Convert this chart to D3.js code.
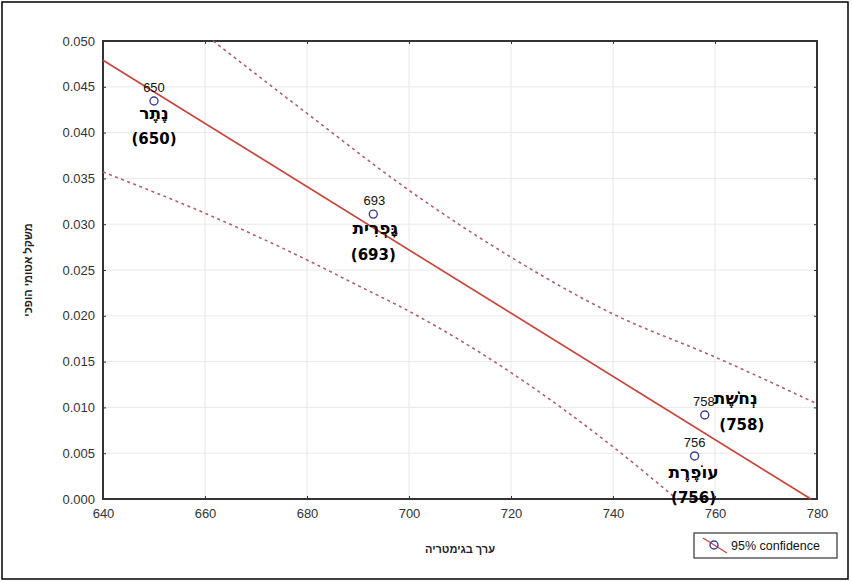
<!DOCTYPE html>
<html><head><meta charset="utf-8">
<script src="https://cdn.jsdelivr.net/npm/d3@7"></script>
<style>body{margin:0;background:#fff}svg{display:block}</style>
</head><body>
<svg id="c" width="852" height="582"></svg>
<script>
const xTicks = [640,660,680,700,720,740,760,780];
const yTicks = [0,0.005,0.010,0.015,0.020,0.025,0.030,0.035,0.040,0.045,0.050];
const pointsX = [650, 693, 758, 756];
const pointsY = [0.04345, 0.0311, 0.00917, 0.0047];
const pointNames = ["נֶתֶר","גָּפְרִית","נְחֹשֶׁת","עוֹפֶרֶת"];
const fitX = [640, 778.8];
const fitY = [0.0479, 0.0];
const upperX = [661.6, 680, 700, 720, 740, 760, 780];
const upperY = [0.050, 0.0421, 0.0337, 0.0264, 0.0202, 0.0155, 0.0104];
const lowerX = [640, 660, 680, 690, 700, 720, 740, 752.5];
const lowerY = [0.0357, 0.0312, 0.0261, 0.0233, 0.0205, 0.0138, 0.0057, 0.0];
const xTitle = "ערך בגימטריה";
const yTitle = "משקל אטומי הופכי";
const legendText = "95% confidence";

const svg = d3.select("#c");
const L=103,R=817,T=41,B=499;
const x = d3.scaleLinear().domain([640,780]).range([L,R]);
const y = d3.scaleLinear().domain([0,0.05]).range([B,T]);

svg.append("rect").attr("x",2).attr("y",2).attr("width",846).attr("height",577)
  .attr("fill","#fff").attr("stroke","#000").attr("stroke-width",1.5);

// grid
svg.append("g").selectAll("line").data(xTicks.slice(1,-1)).join("line")
  .attr("x1",d=>x(d)).attr("x2",d=>x(d)).attr("y1",T).attr("y2",B)
  .attr("stroke","#e8e8e8").attr("stroke-width",1);
svg.append("g").selectAll("line").data(yTicks.slice(1,-1)).join("line")
  .attr("y1",d=>y(d)).attr("y2",d=>y(d)).attr("x1",L).attr("x2",R)
  .attr("stroke","#e8e8e8").attr("stroke-width",1);

// axes
const fmt = d3.format(".3f");
const ax = (g, axis) => { g.call(axis); g.select(".domain").remove();
  g.selectAll(".tick line").attr("stroke","#333");
  g.selectAll(".tick text").attr("fill","#333").style("font-family","Liberation Sans, Arial").style("font-size","13px"); };
svg.append("g").attr("transform",`translate(0,${B})`).call(g=>ax(g,d3.axisBottom(x).tickValues(xTicks).tickSizeInner(-3).tickSizeOuter(0).tickPadding(10)));
svg.append("g").attr("transform",`translate(0,${T})`).call(g=>{ax(g,d3.axisTop(x).tickValues(xTicks).tickSizeInner(-3).tickSizeOuter(0)); g.selectAll("text").remove();});
svg.append("g").attr("transform",`translate(${L},0)`).call(g=>ax(g,d3.axisLeft(y).tickValues(yTicks).tickFormat(fmt).tickSizeInner(-3).tickSizeOuter(0).tickPadding(8)));
svg.append("g").attr("transform",`translate(${R},0)`).call(g=>{ax(g,d3.axisRight(y).tickValues(yTicks).tickSizeInner(-3).tickSizeOuter(0)); g.selectAll("text").remove();});
svg.append("rect").attr("x",L).attr("y",T).attr("width",R-L).attr("height",B-T)
  .attr("fill","none").attr("stroke","#333").attr("stroke-width",2);

const line = d3.line().x(d=>x(d[0])).y(d=>y(d[1]));
const curve = d3.line().x(d=>x(d[0])).y(d=>y(d[1])).curve(d3.curveMonotoneX);
svg.append("path").attr("d",curve(upperX.map((v,i)=>[v,upperY[i]]))).attr("fill","none")
  .attr("stroke","#b0606a").attr("stroke-width",1.6).attr("stroke-dasharray","3,3.5");
svg.append("path").attr("d",curve(lowerX.map((v,i)=>[v,lowerY[i]]))).attr("fill","none")
  .attr("stroke","#b0606a").attr("stroke-width",1.6).attr("stroke-dasharray","3,3.5");
svg.append("path").attr("d",line(fitX.map((v,i)=>[v,fitY[i]]))).attr("fill","none")
  .attr("stroke","#c8463c").attr("stroke-width",1.7);

// points
const pts = pointsX.map((v,i)=>({x:v,y:pointsY[i],name:pointNames[i]}));
svg.append("g").selectAll("circle").data(pts).join("circle")
  .attr("cx",d=>x(d.x)).attr("cy",d=>y(d.y)).attr("r",4)
  .attr("fill","#fff").attr("stroke","#3d3d99").attr("stroke-width",1.4);

// label offsets per point [numDx,numDy,anchor,nameDx,nameDy,parDx,parDy]
const off = [
  [0,-9,"middle",0,18,0,43],
  [1,-9,"middle",2,20,0,46],
  [10,-9,"end",31,-11,37,15],
  [0,-9,"middle",-1,22,-1,47]
];
const lab = svg.append("g");
pts.forEach((d,i)=>{
  const o=off[i], cx=x(d.x), cy=y(d.y);
  lab.append("text").attr("x",cx+o[0]).attr("y",cy+o[1]).attr("text-anchor",o[2])
    .style("font-family","Liberation Sans, Arial").style("font-size","13px").attr("fill","#111").text(d.x);
  lab.append("text").attr("x",cx+o[3]).attr("y",cy+o[4]).attr("text-anchor","middle")
    .style("font-family","DejaVu Sans").style("font-weight","bold").style("font-size","17px").attr("fill","#000").text(d.name);
  lab.append("text").attr("x",cx+o[5]).attr("y",cy+o[6]).attr("text-anchor","middle")
    .style("font-family","DejaVu Sans").style("font-weight","bold").style("font-size","15px").attr("fill","#000").text(`(${d.x})`);
});

// titles
svg.append("text").attr("x",(L+R)/2).attr("y",553).attr("text-anchor","middle")
  .style("font-family","Liberation Sans, Arial").style("font-weight","bold").style("font-size","11px").attr("fill","#222").text(xTitle);
svg.append("text").attr("transform",`translate(32,${270}) rotate(-90)`).attr("text-anchor","middle")
  .style("font-family","Liberation Sans, Arial").style("font-weight","bold").style("font-size","11px").attr("fill","#222").text(yTitle);

// legend
const lg = svg.append("g");
lg.append("rect").attr("x",694).attr("y",533).attr("width",143).attr("height",25).attr("fill","#fff").attr("stroke","#333").attr("stroke-width",1.2);
lg.append("line").attr("x1",703).attr("y1",538).attr("x2",727).attr("y2",553).attr("stroke","#c8463c").attr("stroke-width",1.3);
lg.append("circle").attr("cx",714).attr("cy",545).attr("r",4).attr("fill","none").attr("stroke","#3d3d99").attr("stroke-width",1.4);
lg.append("text").attr("x",731).attr("y",550).style("font-family","Liberation Sans, Arial").style("font-size","12.5px").attr("fill","#111").text(legendText);
</script>
</body></html>
